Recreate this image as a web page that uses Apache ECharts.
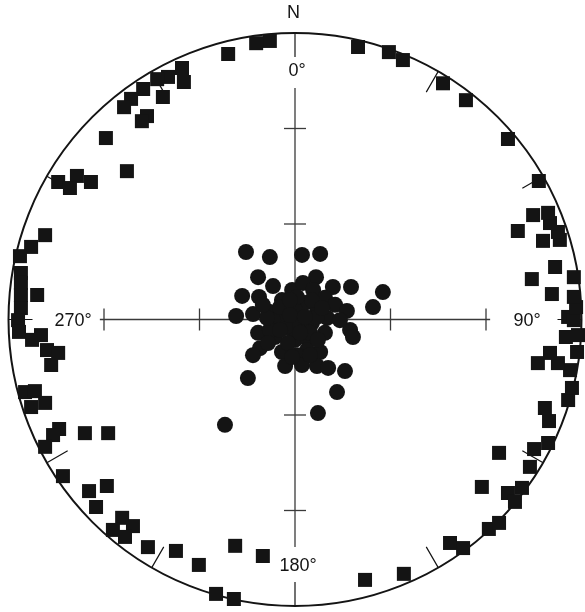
<!DOCTYPE html>
<html>
<head>
<meta charset="utf-8">
<script src="https://cdn.jsdelivr.net/npm/echarts@6/dist/echarts.min.js"></script>
<style>
  html, body { margin: 0; padding: 0; background: #fff; }
  #chart { width: 585px; height: 612px; }
</style>
</head>
<body>
<div id="chart"></div>
<script>
// Poles to bedding (squares) – projected net coordinates (net radius = 90)
const squaresX = [-7.9,-12.2,-21.0,-35.5,-39.9,-43.3,-34.9,-47.7,-51.5,-41.5,-53.7,-46.5,-48.1,-59.4,-52.8,-74.4,-68.5,-70.7,-64.1,
  -78.5,-82.9,-86.4,-86.1,-86.1,-81.0,-86.1,-86.1,-87.0,-86.7,-82.6,-79.8,-77.9,-74.4,-76.6,-84.8,-81.7,-78.5,-82.9,
  -74.1,-76.0,-78.5,-66.0,-58.7,-72.9,-64.7,-59.1,-62.5,-54.3,-50.9,-57.2,-53.4,-46.2,-37.4,-30.2,-18.8,-10.1,-24.8,-19.2,
  22.0,34.2,48.7,52.8,60.9,64.1,58.7,71.3,66.9,69.1,64.1,73.8,75.1,79.5,79.8,78.5,85.8,87.0,86.4,82.6,76.3,80.1,88.6,
  85.1,88.9,85.8,87.6,88.3,87.6,80.7,87.6,74.4,81.7,77.9,83.2,82.6,80.1,70.0,79.5,74.8,76.6,
  66.9,53.7,46.5,33.9,29.5,19.8];
const squaresY = [87.5,86.8,83.4,79.0,76.2,75.5,74.6,72.4,69.3,69.9,66.7,63.9,62.3,57.0,46.6,43.2,45.1,41.3,43.2,
  26.5,22.8,19.9,14.6,11.5,7.7,7.7,3.6,-0.2,-3.9,-6.4,-4.9,-9.6,-10.5,-14.3,-22.8,-22.5,-26.2,-27.5,
  -34.4,-36.3,-40.0,-35.7,-35.7,-49.2,-53.9,-52.3,-58.9,-62.3,-64.9,-66.1,-68.3,-71.5,-72.7,-77.1,-71.1,-74.3,-86.2,-87.8,
  -81.8,-79.9,-70.2,-71.8,-65.8,-63.9,-52.6,-52.9,-54.5,-57.3,-41.9,-46.3,-40.7,-38.8,-31.9,-27.8,-25.3,-21.5,-15.9,-13.7,-13.7,-10.5,-10.2,
  -5.5,-4.9,0.8,-0.2,3.9,7.1,8.0,13.3,12.7,16.5,24.7,25.0,27.5,30.3,27.8,33.5,32.8,43.5,
  56.7,68.9,74.2,81.5,84.0,85.6];

// Fold axes / lineations (circles)
const circlesX = [-15.4,-7.9,2.2,7.9,-11.6,-6.9,6.6,11.9,17.6,27.6,24.5,-16.6,-11.3,-18.5,-13.2,-8.2,-4.1,-0.9,2.5,5.7,
  9.4,12.6,16.3,10.1,6.9,3.1,0.0,-3.1,-6.9,-11.6,-6.3,-2.2,1.6,5.3,9.4,17.3,18.2,-11.0,-13.2,-4.1,0.0,4.1,7.9,3.8,0.6,
  -3.1,2.2,6.9,10.4,15.7,-14.8,13.2,7.2,-22.0,5.3,0.6,-4.7,-7.9,4.7,-2.2,6.9,-8.8,
  -1.6,3.1,-4.7,1.6,7.2,-0.9,-8.5,-10.1,8.5,14.1,-1.6,4.7];
const circlesY = [21.2,19.6,20.3,20.6,13.3,10.5,13.3,10.2,10.2,8.6,3.9,7.4,7.1,1.1,1.7,2.4,6.1,9.3,11.5,9.3,
  6.8,4.6,2.7,0.5,2.4,5.2,3.0,0.8,-0.2,-4.2,-5.5,-2.7,-1.7,-1.1,-4.2,-3.3,-5.5,-9.0,-11.2,-10.2,-6.4,-6.4,-10.2,-9.6,-11.2,
  -14.6,-14.3,-14.6,-15.2,-16.2,-18.4,-22.8,-29.4,-33.1,6.1,7.1,3.9,-3.3,-4.2,-7.4,0.8,0.5,
  1.4,0.8,-3.3,-4.2,-6.4,-11.8,-7.4,4.6,3.6,-0.2,6.1,-11.2];

// Reference cross (net units) and its tick values
const crossH = [-61.3, 61.3];
const crossV = [-71.5, 72.7];
const crossTicks = [-60, -30, 30, 60];

// Direction labels
const dirLabels = ['N', '0°', '90°', '180°', '270°'];

const zip = (a, b) => a.map((v, i) => [v, b[i]]);
const ink = '#141414';
const lineInk = '#3a3a3a';
const font = '"Liberation Sans", Arial, sans-serif';

const chart = echarts.init(document.getElementById('chart'), null, { renderer: 'canvas' });

const CX = 295, CY = 319.5, R = 286.5;

chart.setOption({
  animation: false,
  backgroundColor: '#fff',
  polar: { center: [CX, CY], radius: R },
  angleAxis: {
    type: 'value', min: 0, max: 360, interval: 30, startAngle: 90, clockwise: true,
    axisLine: { show: true, lineStyle: { color: ink, width: 2 } },
    axisTick: { show: true, inside: true, length: 24, lineStyle: { color: ink, width: 1.2 } },
    axisLabel: { show: false },
    splitLine: { show: false }
  },
  radiusAxis: { type: 'value', min: 0, max: 1, show: false, splitLine: { show: false } },
  grid: { left: CX - R, top: CY - R, width: 2 * R, height: 2 * R },
  xAxis: { type: 'value', min: -90, max: 90, show: false },
  yAxis: { type: 'value', min: -90, max: 90, show: false },
  graphic: [
    { type: 'text', left: 287, top: 4, style: { text: dirLabels[0], font: '18px ' + font, fill: ink } },
    { type: 'text', x: 297, y: 71, style: { text: dirLabels[1], font: '18px ' + font, fill: ink, align: 'center', verticalAlign: 'middle' } },
    { type: 'text', x: 527, y: 321, style: { text: dirLabels[2], font: '18px ' + font, fill: ink, align: 'center', verticalAlign: 'middle' } },
    { type: 'text', x: 298, y: 566, style: { text: dirLabels[3], font: '18px ' + font, fill: ink, align: 'center', verticalAlign: 'middle' } },
    { type: 'text', x: 73, y: 321, style: { text: dirLabels[4], font: '18px ' + font, fill: ink, align: 'center', verticalAlign: 'middle' } }
  ],
  series: [
    { type: 'line', data: [[crossH[0], 0], [crossH[1], 0]], symbol: 'none', z: 1,
      lineStyle: { color: lineInk, width: 1.3 } },
    { type: 'line', data: [[0, crossV[0]], [0, crossV[1]]], symbol: 'none', z: 1,
      lineStyle: { color: lineInk, width: 1.3 } },
    { type: 'scatter', data: crossTicks.map(v => [v, 0]), symbol: 'rect', symbolSize: [1.3, 22], z: 1,
      itemStyle: { color: lineInk, opacity: 1 } },
    { type: 'scatter', data: crossTicks.map(v => [0, v]), symbol: 'rect', symbolSize: [22, 1.3], z: 1,
      itemStyle: { color: lineInk, opacity: 1 } },
    { type: 'scatter', name: 'poles', data: zip(squaresX, squaresY), symbol: 'rect', symbolSize: 14, z: 3,
      itemStyle: { color: ink, opacity: 1 } },
    { type: 'scatter', name: 'axes', data: zip(circlesX, circlesY), symbol: 'circle', symbolSize: 16, z: 3,
      itemStyle: { color: ink, opacity: 1 } }
  ]
});
</script>
</body>
</html>
